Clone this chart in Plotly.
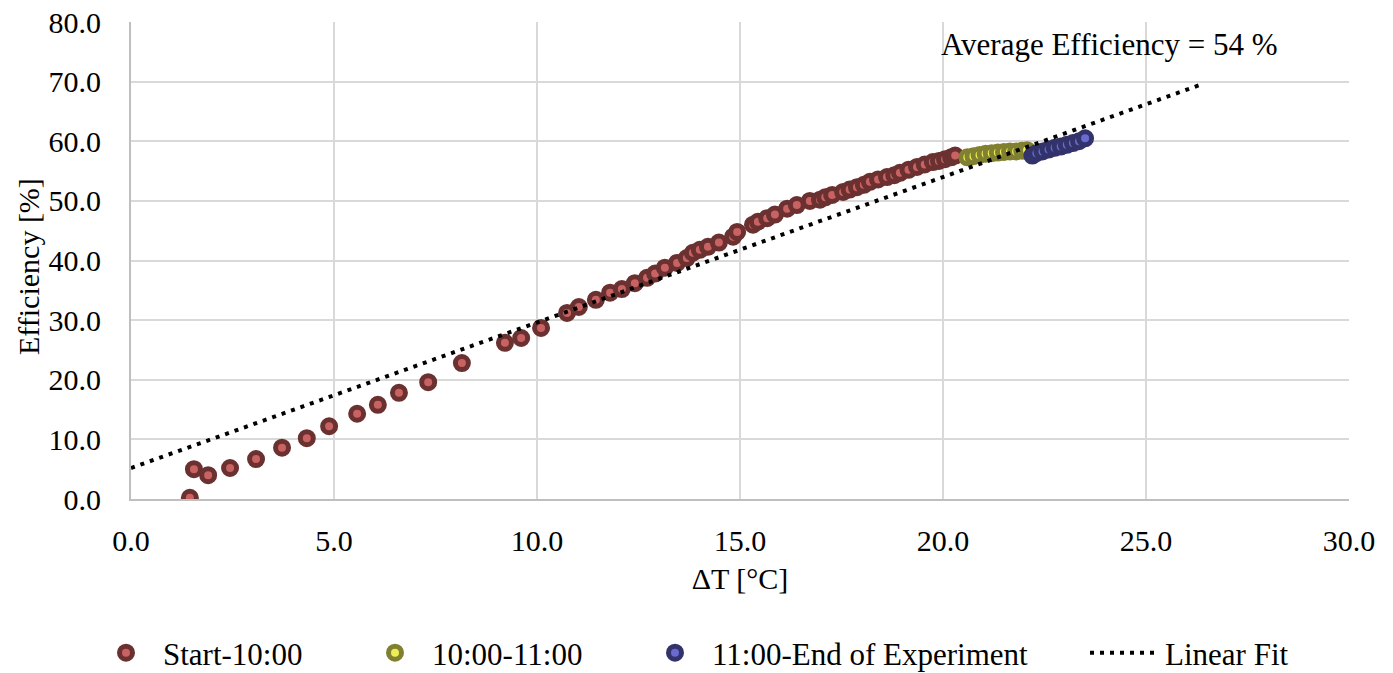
import plotly.graph_objects as go

# Series 1: Start-10:00
x_start = [1.45, 1.55, 1.9, 2.44, 3.08, 3.72, 4.33, 4.88, 5.57, 6.08, 6.6, 7.32, 8.15,
           9.21, 9.61, 10.10, 10.74, 11.03, 11.45, 11.80, 12.09, 12.41, 12.71, 12.91,
           13.15, 13.45, 13.69, 13.84, 14.01, 14.21, 14.48, 14.83, 14.93, 15.32, 15.44,
           15.67, 15.86, 16.16, 16.40, 16.72, 16.97, 17.10, 17.27, 17.54, 17.70, 17.88,
           18.05, 18.20, 18.40, 18.62, 18.80, 18.94, 19.15, 19.36, 19.55, 19.75, 19.90,
           20.05, 20.20, 20.30]
y_start = [0.2, 5.0, 4.0, 5.2, 6.7, 8.6, 10.2, 12.2, 14.3, 15.8, 17.8, 19.6, 22.8,
           26.2, 27.0, 28.7, 31.2, 32.2, 33.4, 34.6, 35.2, 36.2, 37.1, 37.8,
           38.8, 39.6, 40.4, 41.3, 41.8, 42.3, 43.0, 44.0, 44.8, 46.0, 46.5,
           47.1, 47.7, 48.7, 49.3, 50.0, 50.2, 50.6, 51.0, 51.5, 51.9, 52.3,
           52.7, 53.2, 53.6, 54.0, 54.3, 54.7, 55.2, 55.7, 56.1, 56.5, 56.7,
           57.0, 57.3, 57.6]

# Series 2: 10:00-11:00
x_mid = [20.6, 20.75, 20.9, 21.05, 21.2, 21.35, 21.5, 21.65, 21.8, 21.95, 22.07]
y_mid = [57.3, 57.5, 57.7, 57.9, 58.0, 58.1, 58.2, 58.3, 58.3, 58.4, 58.5]

# Series 3: 11:00-End of Experiment
x_end = [22.2, 22.3, 22.45, 22.6, 22.75, 22.9, 23.05, 23.2, 23.35, 23.5]
y_end = [57.6, 58.0, 58.3, 58.6, 58.9, 59.1, 59.4, 59.7, 60.0, 60.5]

# Linear fit
fit_slope = 2.44
fit_intercept = 5.2
fit_x = [0.0, 26.4]
fit_y = [fit_intercept + fit_slope * v for v in fit_x]

x_ticks = [0, 5, 10, 15, 20, 25, 30]
y_ticks = [0, 10, 20, 30, 40, 50, 60, 70, 80]

FONT = "Liberation Serif, Times New Roman, serif"
W, H = 1393, 673

fig = go.Figure()

series = [
    ("Start-10:00", x_start, y_start, "#C96262", "#6B3030", "legend"),
    ("10:00-11:00", x_mid, y_mid, "#EDED5A", "#808030", "legend2"),
    ("11:00-End of Experiment", x_end, y_end, "#6A6AD0", "#33336B", "legend3"),
]
for name, xs, ys, fill, border, lg in series:
    fig.add_trace(go.Scatter(
        x=xs, y=ys, mode="markers", name=name, legend=lg,
        marker=dict(symbol="circle", size=13, color=fill,
                    line=dict(color=border, width=5)),
    ))

fig.add_trace(go.Scatter(
    x=fit_x, y=fit_y, mode="lines", name="Linear Fit", legend="legend4",
    line=dict(color="black", width=4, dash="4px,6px"),
))

fig.add_annotation(
    x=24.1, y=76.2, xref="x", yref="y", text="Average Efficiency = 54 %",
    showarrow=False, font=dict(family=FONT, size=31, color="black"),
    xanchor="center", yanchor="middle",
)

# y-axis title as rotated text
fig.add_annotation(
    x=(28 - 131) / 1218, y=(499 - 267) / 477, xref="paper", yref="paper",
    text="Efficiency [%]", textangle=-90, showarrow=False,
    font=dict(family=FONT, size=30, color="black"),
    xanchor="center", yanchor="middle",
)

def leg(px, iw=64):
    return dict(orientation="h", xref="container", yref="paper",
                x=px / W, xanchor="left", y=(499 - 653) / 477, yanchor="middle",
                itemwidth=iw,
                font=dict(family=FONT, size=31, color="black"),
                bgcolor="rgba(0,0,0,0)")

fig.update_layout(
    width=W, height=H,
    margin=dict(l=131, r=44, t=22, b=174, autoexpand=False),
    paper_bgcolor="white", plot_bgcolor="white",
    font=dict(family=FONT, size=30, color="black"),
    showlegend=True,
    legend=leg(89), legend2=leg(358), legend3=leg(638), legend4=leg(1085, 70),
    xaxis=dict(
        range=[0, 30], tickvals=x_ticks, ticktext=[f"{v:.1f}" for v in x_ticks],
        showgrid=True, gridcolor="#D9D9D9", gridwidth=1.5, automargin=False,
        zeroline=False, showline=True, linecolor="#BFBFBF", linewidth=2,
        ticks="", ticklabelstandoff=14,
        title=dict(text="ΔT [°C]", font=dict(family=FONT, size=30), standoff=12),
        tickfont=dict(family=FONT, size=30),
    ),
    yaxis=dict(
        range=[0, 80], tickvals=y_ticks, ticktext=[f"{v:.1f}" for v in y_ticks],
        showgrid=True, gridcolor="#D9D9D9", gridwidth=1.5, automargin=False,
        zeroline=False, showline=True, linecolor="#BFBFBF", linewidth=2,
        ticks="", ticklabelstandoff=22,
        tickfont=dict(family=FONT, size=30),
    ),
)

fig.write_html("out.html")
